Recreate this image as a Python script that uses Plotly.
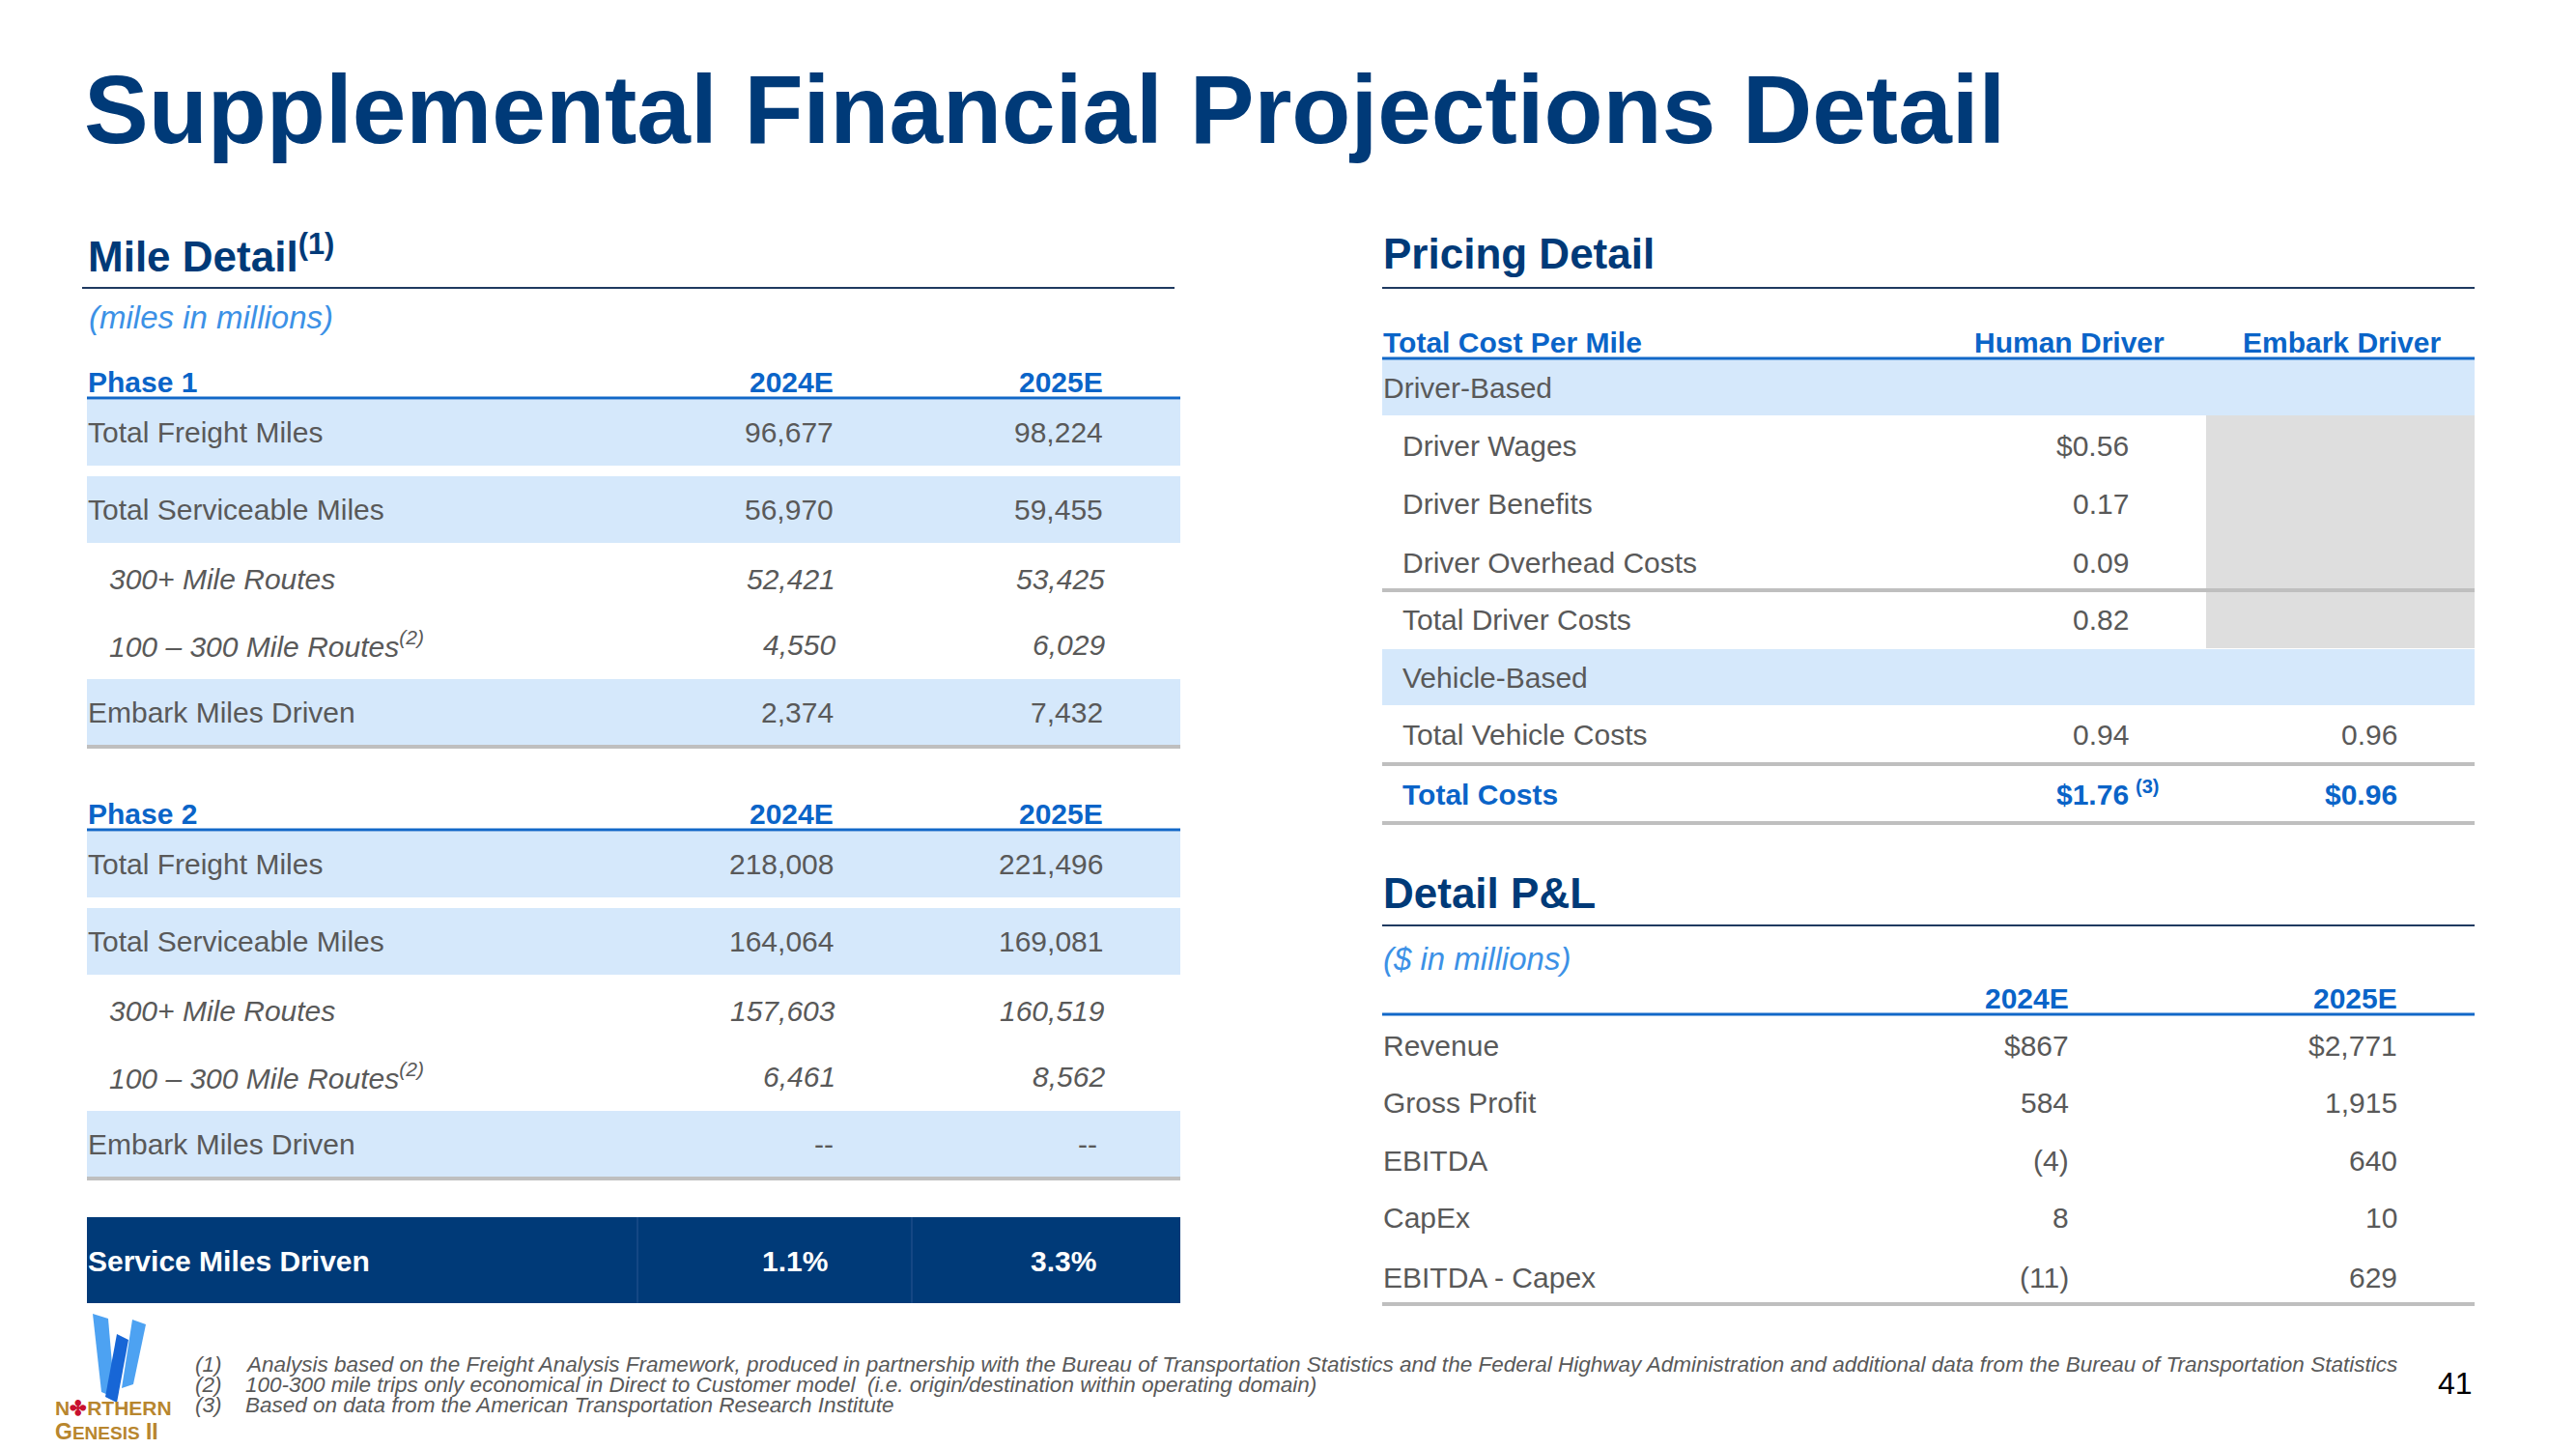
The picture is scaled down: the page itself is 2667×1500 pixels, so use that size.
import plotly.graph_objects as go

# ---------------- data ----------------
title_text = "Supplemental Financial Projections Detail"
years = ["2024E", "2025E"]

mile_labels = ["Total Freight Miles", "Total Serviceable Miles", "300+ Mile Routes",
               "100 – 300 Mile Routes", "Embark Miles Driven"]
mile_label_notes = ["", "", "", "(2)", ""]
phase1_2024 = [96677, 56970, 52421, 4550, 2374]
phase1_2025 = [98224, 59455, 53425, 6029, 7432]
phase2_2024 = [218008, 164064, 157603, 6461, None]
phase2_2025 = [221496, 169081, 160519, 8562, None]
service_label = "Service Miles Driven"
service_miles_pct = [1.1, 3.3]

pricing_cols = ["Human Driver", "Embark Driver"]
pricing_labels = ["Driver-Based", "Driver Wages", "Driver Benefits", "Driver Overhead Costs",
                  "Total Driver Costs", "Vehicle-Based", "Total Vehicle Costs", "Total Costs"]
human_cost = [None, 0.56, 0.17, 0.09, 0.82, None, 0.94, 1.76]
embark_cost = [None, None, None, None, None, None, 0.96, 0.96]

pl_labels = ["Revenue", "Gross Profit", "EBITDA", "CapEx", "EBITDA - Capex"]
pl_2024 = [867, 584, -4, 8, -11]
pl_2025 = [2771, 1915, 640, 10, 629]

footnote_marks = ["(1)", "(2)", "(3)"]
footnotes = [
    "Analysis based on the Freight Analysis Framework, produced in partnership with the Bureau of Transportation Statistics and the Federal Highway Administration and additional data from the Bureau of Transportation Statistics",
    "100-300 mile trips only economical in Direct to Customer model  (i.e. origin/destination within operating domain)",
    "Based on data from the American Transportation Research Institute",
]
page_number = "41"

# ---------------- styles ----------------
FONT = "Liberation Sans, Arial, Helvetica, sans-serif"
NAVY = "#003A78"
HEAD_BLUE = "#0A64C8"
SUB_BLUE = "#3C91E6"
GRAY_TXT = "#595959"
BAND = "#D5E8FB"
RULE_GRAY = "#BFBFBF"
BOX_GRAY = "#DEDEDE"
HEAD_LINE = "#1268C8"
SECTION_LINE = "#1F3A60"
GOLD = "#B8862E"

ann = []
shapes = []


def txt(x, y, s, size=30, color=GRAY_TXT, bold=False, italic=False, anchor="left"):
    if bold:
        s = f"<b>{s}</b>"
    if italic:
        s = f"<i>{s}</i>"
    ann.append(dict(x=x, y=y, xref="x", yref="y", text=s, showarrow=False,
                    xanchor=anchor, yanchor="middle", borderpad=0,
                    font=dict(size=size, color=color, family=FONT)))


def rect(x0, y0, x1, y1, color, layer="below"):
    shapes.append(dict(type="rect", xref="x", yref="y", x0=x0, y0=y0, x1=x1, y1=y1,
                       fillcolor=color, line=dict(width=0), layer=layer))


def hline(x0, x1, y, color, w):
    shapes.append(dict(type="line", xref="x", yref="y", x0=x0, x1=x1, y0=y, y1=y,
                       line=dict(color=color, width=w), layer="above"))


def vline(x, y0, y1, color, w):
    shapes.append(dict(type="line", xref="x", yref="y", x0=x, x1=x, y0=y0, y1=y1,
                       line=dict(color=color, width=w), layer="above"))


def fmt_miles(v):
    return "--" if v is None else f"{v:,}"


def fmt_pl(v, dollar):
    s = f"{abs(v):,}"
    if dollar:
        s = "$" + s
    return f"({s})" if v < 0 else s


# ---------------- title ----------------
txt(86, 113, title_text, size=100, color=NAVY, bold=True)

# ---------------- left: Mile Detail ----------------
LX0, LX1, LIND = 90, 1222, 112
LCOL = [864, 1143]
txt(90, 262, "Mile Detail<sup>(1)</sup>", size=44, color=NAVY, bold=True)
hline(85, 1216, 298, SECTION_LINE, 2)
txt(91, 328, "(miles in millions)", size=33, color=SUB_BLUE, italic=True)

row_y = [447, 527, 599, 667, 737]
band_rows = {0: (414, 482), 1: (493, 562), 4: (703, 771)}
italic_rows = {2, 3}
phase_blocks = [("Phase 1", phase1_2024, phase1_2025, 0),
                ("Phase 2", phase2_2024, phase2_2025, 447)]
for name, v24, v25, off in phase_blocks:
    txt(LX0, 395 + off, name, size=30, color=HEAD_BLUE, bold=True)
    for j, yr in enumerate(years):
        txt(LCOL[j], 395 + off, yr, size=30, color=HEAD_BLUE, bold=True, anchor="right")
    hline(LX0, LX1, 412 + off, HEAD_LINE, 3)
    for i, lab in enumerate(mile_labels):
        y = row_y[i] + off
        if i in band_rows:
            t, b = band_rows[i]
            rect(LX0, t + off, LX1, b + off, BAND)
        ital = i in italic_rows
        label = lab + (f"<sup>{mile_label_notes[i]}</sup>" if mile_label_notes[i] else "")
        txt(LIND if ital else LX0, y, label, size=30, italic=ital)
        vals = [v24[i], v25[i]]
        for j, v in enumerate(vals):
            txt(LCOL[j] + (2 if ital else 0) - (j * 6 if v is None else 0), y, fmt_miles(v),
                size=30, italic=ital, anchor="right")
    hline(LX0, LX1, 773 + off, RULE_GRAY, 4)

# service miles driven band
rect(LX0, 1260, LX1, 1349, NAVY)
vline(660, 1260, 1349, "#1B4C88", 1.5)
vline(944, 1260, 1349, "#1B4C88", 1.5)
txt(LX0, 1305, service_label, size=30, color="white", bold=True)
for j, p in enumerate(service_miles_pct):
    txt([858, 1136][j], 1305, f"{p:.1f}%", size=30, color="white", bold=True, anchor="right")

# ---------------- right: Pricing Detail ----------------
RX0, RX1, RIND = 1431, 2562, 1451
txt(RX0, 262, "Pricing Detail", size=44, color=NAVY, bold=True)
hline(RX0, RX1, 298, SECTION_LINE, 2)

txt(RX0, 354, "Total Cost Per Mile", size=30, color=HEAD_BLUE, bold=True)
txt(2242, 354, pricing_cols[0], size=30, color=HEAD_BLUE, bold=True, anchor="right")
txt(2528, 354, pricing_cols[1], size=30, color=HEAD_BLUE, bold=True, anchor="right")
hline(RX0, RX1, 371, HEAD_LINE, 3)

p_y = [401, 461, 521, 582, 641, 701, 760, 822]
p_bands = {0: (372, 430), 5: (672, 730)}
rect(2284, 430, RX1, 671, BOX_GRAY)
p_cols = [2205, 2483]
for i, lab in enumerate(pricing_labels):
    y = p_y[i]
    if i in p_bands:
        t, b = p_bands[i]
        rect(RX0, t, RX1, b, BAND)
    total = i == len(pricing_labels) - 1
    color = HEAD_BLUE if total else GRAY_TXT
    x = RX0 if i == 0 else RIND
    txt(x, y, lab, size=30, color=color, bold=total)
    dollar = i in (1, len(pricing_labels) - 1)
    for j, v in enumerate([human_cost[i], embark_cost[i]]):
        if v is None:
            continue
        s = ("$" if dollar else "") + f"{v:.2f}"
        txt(p_cols[j], y, s, size=30, color=color, bold=total, anchor="right")
    if total:
        txt(2210, y - 8, "(3)", size=20, color=HEAD_BLUE, bold=True)
hline(RX0, RX1, 611, RULE_GRAY, 4)
hline(RX0, RX1, 791, RULE_GRAY, 4)
hline(RX0, RX1, 852, RULE_GRAY, 4)

# ---------------- right: Detail P&L ----------------
txt(RX0, 924, "Detail P&amp;L", size=44, color=NAVY, bold=True)
hline(RX0, RX1, 958, SECTION_LINE, 2)
txt(RX0, 992, "($ in millions)", size=33, color=SUB_BLUE, italic=True)
pl_cols = [2143, 2483]
for j, yr in enumerate(years):
    txt(pl_cols[j], 1033, yr, size=30, color=HEAD_BLUE, bold=True, anchor="right")
hline(RX0, RX1, 1050, HEAD_LINE, 3)
pl_y = [1082, 1141, 1201, 1260, 1322]
for i, lab in enumerate(pl_labels):
    txt(RX0, pl_y[i], lab, size=30)
    for j, v in enumerate([pl_2024[i], pl_2025[i]]):
        txt(pl_cols[j], pl_y[i], fmt_pl(v, i == 0), size=30, anchor="right")
hline(RX0, RX1, 1350, RULE_GRAY, 4)

# ---------------- footer ----------------
fn_y = [1412, 1433, 1454]
for k in range(3):
    txt(201, fn_y[k], footnote_marks[k], size=22.5, italic=True)
    txt(253, fn_y[k], footnotes[k], size=22.5, italic=True)
txt(2561, 1432, page_number, size=32, color="black", anchor="right")

# logo
def poly(pts, color):
    path = "M " + " L ".join(f"{x},{y}" for x, y in pts) + " Z"
    shapes.append(dict(type="path", xref="x", yref="y", path=path, fillcolor=color,
                       line=dict(width=0), layer="above"))

poly([(96, 1360), (112, 1365), (119, 1447), (105, 1441)], "#4DA2F2")
poly([(121, 1381), (133, 1387), (121, 1452), (109, 1446)], "#1766D6")
poly([(137, 1366), (151, 1371), (138, 1433), (126, 1437)], "#4DA2F2")
txt(56, 1457, "N<span style='color:#C8102E'>✤</span>RTHERN", size=21, color=GOLD, bold=True)
txt(56, 1482, "G<span style='font-size:19px'>ENESIS</span> II", size=23, color=GOLD, bold=True)

fig = go.Figure()
fig.update_layout(
    width=2667, height=1500,
    margin=dict(l=0, r=0, t=0, b=0),
    paper_bgcolor="white", plot_bgcolor="white",
    xaxis=dict(range=[0, 2667], visible=False, fixedrange=True),
    yaxis=dict(range=[1500, 0], visible=False, fixedrange=True),
    annotations=ann, shapes=shapes, showlegend=False,
)
fig.write_html("out.html", include_plotlyjs=True,
               config={"displayModeBar": False, "staticPlot": True},
               post_script="document.body.style.margin='0';document.body.style.padding='0';")
